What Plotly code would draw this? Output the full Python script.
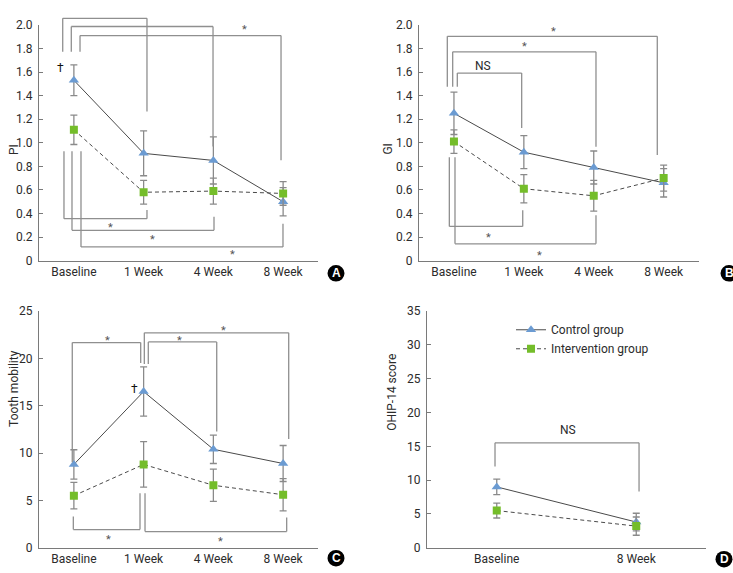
import plotly.graph_objects as go

FONT = "Roboto, Liberation Sans, Arial, sans-serif"

# ---------------- data ----------------
weeks4 = ["Baseline", "1 Week", "4 Week", "8 Week"]
weeks2 = ["Baseline", "8 Week"]

pi_control = [1.53, 0.91, 0.85, 0.50]
pi_control_sd = [0.13, 0.19, 0.20, 0.12]
pi_interv = [1.11, 0.58, 0.59, 0.57]
pi_interv_sd = [0.125, 0.10, 0.11, 0.10]

gi_control = [1.25, 0.92, 0.79, 0.66]
gi_control_sd = [0.18, 0.14, 0.14, 0.12]
gi_interv = [1.01, 0.61, 0.55, 0.70]
gi_interv_sd = [0.10, 0.12, 0.13, 0.11]

tm_control = [8.8, 16.5, 10.4, 8.9]
tm_control_sd = [1.55, 2.6, 1.5, 1.9]
tm_interv = [5.5, 8.8, 6.6, 5.6]
tm_interv_sd = [1.4, 2.4, 1.7, 1.7]

ohip_control = [9.0, 3.8]
ohip_control_sd = [1.15, 1.3]
ohip_interv = [5.5, 3.2]
ohip_interv_sd = [1.1, 1.35]

pi_ticks = [0, 0.2, 0.4, 0.6, 0.8, 1.0, 1.2, 1.4, 1.6, 1.8, 2.0]
pi_ticktext = ["0", "0.2", "0.4", "0.6", "0.8", "1.0", "1.2", "1.4", "1.6", "1.8", "2.0"]
tm_ticks = [0, 5, 10, 15, 20, 25]
ohip_ticks = [0, 5, 10, 15, 20, 25, 30, 35]

# ---------------- styles ----------------
C_BLUE = "#6b9bd2"
C_GREEN = "#74bd2a"
C_LINE = "#4a4a4a"
C_ERR = "#8a8a8a"
C_BRK = "#8f8f8f"
C_AX = "#7a7a7a"
C_TXT = "#2b2b2b"
FS = 12

panels = {
    # name: (xaxis id, yaxis id, xdomain, ydomain, xrange, yrange)
    "A": ("x", "y", [0.05321, 0.43383], [0.54625, 0.96806], [-0.5, 3.5], [0, 2.0]),
    "B": ("x2", "y2", [0.57162, 0.95307], [0.54625, 0.96806], [-0.5, 3.5], [0, 2.0]),
    "C": ("x3", "y3", [0.05321, 0.43383], [0.03264, 0.45602], [-0.5, 3.5], [0, 25]),
    "D": ("x4", "y4", [0.58254, 0.96317], [0.03264, 0.45602], [-0.5, 1.5], [0, 35]),
}

fig = go.Figure()


def add_series(panel, cats, ctrl, ctrl_sd, intv, intv_sd, legend=False):
    xa, ya = panels[panel][0], panels[panel][1]
    xs = list(range(len(cats)))
    fig.add_trace(go.Scatter(
        x=xs, y=ctrl, xaxis=xa, yaxis=ya, mode="lines+markers",
        name="Control group", showlegend=legend, legendrank=1,
        line=dict(color=C_LINE, width=1),
        marker=dict(symbol="triangle-up", size=9, color=C_BLUE),
        error_y=dict(type="data", array=ctrl_sd, color=C_ERR, thickness=1.3, width=3.5),
    ))
    fig.add_trace(go.Scatter(
        x=xs, y=intv, xaxis=xa, yaxis=ya, mode="lines+markers",
        name="Intervention group", showlegend=legend, legendrank=2,
        line=dict(color=C_LINE, width=1, dash="4px,3px"),
        marker=dict(symbol="square", size=8, color=C_GREEN),
        error_y=dict(type="data", array=intv_sd, color=C_ERR, thickness=1.3, width=3.5),
    ))


add_series("A", weeks4, pi_control, pi_control_sd, pi_interv, pi_interv_sd)
add_series("B", weeks4, gi_control, gi_control_sd, gi_interv, gi_interv_sd)
add_series("C", weeks4, tm_control, tm_control_sd, tm_interv, tm_interv_sd)
add_series("D", weeks2, ohip_control, ohip_control_sd, ohip_interv, ohip_interv_sd, legend=True)

# ---------------- axes ----------------
layout_axes = {}
yticks = {
    "A": (pi_ticks, pi_ticktext),
    "B": (pi_ticks, pi_ticktext),
    "C": (tm_ticks, [str(v) for v in tm_ticks]),
    "D": (ohip_ticks, [str(v) for v in ohip_ticks]),
}
xcats = {"A": weeks4, "B": weeks4, "C": weeks4, "D": weeks2}
for p, (xa, ya, xd, yd, xr, yr) in panels.items():
    xname = "xaxis" + xa[1:]
    yname = "yaxis" + ya[1:]
    layout_axes[xname] = dict(
        domain=xd, range=xr, anchor=ya, showgrid=False, zeroline=False,
        showline=True, linecolor=C_AX, linewidth=1, ticks="",
        tickmode="array", tickvals=list(range(len(xcats[p]))), ticktext=xcats[p],
        tickfont=dict(family=FONT, size=FS, color=C_TXT), fixedrange=True,
    )
    tv, tt = yticks[p]
    layout_axes[yname] = dict(
        domain=yd, range=yr, anchor=xa, showgrid=False, zeroline=False,
        showline=True, linecolor=C_AX, linewidth=1, ticks="inside", ticklen=4,
        tickcolor=C_AX, tickmode="array", tickvals=tv, ticktext=tt,
        tickfont=dict(family=FONT, size=FS, color=C_TXT), fixedrange=True,
        ticklabelstandoff=3,
    )

# ---------------- significance brackets ----------------
# (x_left, y_left_end, y_bar, x_right, y_right_end) in data units
brackets = {
    "A": [(-0.160, 1.771, 2.055, 1.048, 1.266),
          (-0.037, 1.771, 1.986, 1.995, 0.968),
          (0.088, 1.771, 1.909, 2.970, 0.852),
          (-0.142, 0.927, 0.356, 1.048, 0.430),
          (-0.027, 0.927, 0.257, 2.009, 0.372),
          (0.102, 0.927, 0.116, 2.998, 0.314)],
    "B": [(-0.095, 1.475, 1.903, 2.909, 0.896),
          (-0.018, 1.475, 1.771, 2.032, 0.966),
          (0.048, 1.475, 1.591, 0.969, 1.125),
          (-0.066, 0.877, 0.290, 0.984, 0.428),
          (0.015, 0.877, 0.143, 2.032, 0.386)],
    "C": [(-0.023, 9.03, 21.67, 0.958, 19.51),
          (1.010, 19.40, 22.70, 3.080, 11.50),
          (1.067, 19.40, 21.74, 2.048, 12.29),
          (-0.008, 3.30, 1.92, 0.948, 5.77),
          (1.020, 5.77, 1.71, 3.051, 3.19)],
    "D": [(-0.0125, 12.02, 15.52, 1.020, 8.31)],
}

labels = {
    "A": [("*", 0.432, 2.135), ("*", 1.364, 2.05), ("*", 2.44, 1.986),
          ("*", 0.532, 0.306), ("*", 1.134, 0.207), ("*", 2.281, 0.074),
          ("†", -0.185, 1.638)],
    "B": [("*", 1.421, 1.972), ("*", 1.016, 1.843), ("NS", 0.420, 1.655),
          ("*", 0.491, 0.221), ("*", 1.217, 0.069)],
    "C": [("*", 0.485, 22.16), ("*", 1.521, 22.16), ("*", 2.152, 23.22),
          ("*", 0.494, 1.24), ("*", 2.109, 0.96), ("†", 0.876, 16.76)],
    "D": [("NS", 0.509, 17.36)],
}

shapes = []
annotations = []
for p, blist in brackets.items():
    xa, ya, xd, yd, xr, yr = panels[p]

    def dx(v):
        return (v - xr[0]) / (xr[1] - xr[0])

    def dy(v):
        return (v - yr[0]) / (yr[1] - yr[0])

    xref = xa + " domain"
    yref = ya + " domain"
    for (x1, yl, yb, x2, yr2) in blist:
        pts = [(x1, yl), (x1, yb), (x2, yb), (x2, yr2)]
        for (a, b), (c, d) in zip(pts[:-1], pts[1:]):
            shapes.append(dict(type="line", xref=xref, yref=yref,
                               x0=dx(a), y0=dy(b), x1=dx(c), y1=dy(d),
                               line=dict(color=C_BRK, width=1.3)))

for p, llist in labels.items():
    xa, ya = panels[p][0], panels[p][1]
    for txt, x, y in llist:
        if txt == "*":
            annotations.append(dict(text="*", x=x, y=y, xref=xa, yref=ya, showarrow=False,
                                    font=dict(family=FONT, size=11, color="#555"),
                                    yshift=-3))
        elif txt == "†":
            annotations.append(dict(text="†", x=x, y=y, xref=xa, yref=ya, showarrow=False,
                                    font=dict(family=FONT, size=12, color="#111")))
        else:
            annotations.append(dict(text=txt, x=x, y=y, xref=xa, yref=ya, showarrow=False,
                                    font=dict(family=FONT, size=FS, color=C_TXT)))

# axis titles
W, H = 733, 573
titles = [("PI", 4.5, 138.5), ("GI", 388, 138.5),
          ("Tooth mobility", 5, 433), ("OHIP-14 score", 392, 437)]
for t, px, py in titles:
    annotations.append(dict(text=t, x=px / W, y=1 - py / H, xref="paper", yref="paper",
                            showarrow=False, textangle=-90,
                            font=dict(family=FONT, size=FS, color=C_TXT)))

# panel letters
letters = [("A", 336, 273), ("B", 729, 273), ("C", 336, 565), ("D", 724, 566)]
r = 8.5
for t, cx, cy in letters:
    shapes.append(dict(type="circle", xref="paper", yref="paper",
                       x0=(cx - r) / W, x1=(cx + r) / W,
                       y0=1 - (cy + r) / H, y1=1 - (cy - r) / H,
                       fillcolor="black", line=dict(width=0)))
    annotations.append(dict(text="<b>" + t + "</b>", x=cx / W, y=1 - cy / H,
                            xref="paper", yref="paper", showarrow=False,
                            xanchor="center", yanchor="middle",
                            font=dict(family="Liberation Sans, Arial, sans-serif", size=12,
                                      color="white")))

fig.update_layout(
    width=W, height=H,
    margin=dict(l=0, r=0, t=0, b=0),
    paper_bgcolor="white", plot_bgcolor="white",
    showlegend=True,
    legend=dict(x=511 / W, y=1 - 316 / H, xanchor="left", yanchor="top",
                bgcolor="rgba(0,0,0,0)", font=dict(family=FONT, size=FS, color=C_TXT),
                itemwidth=30, tracegroupgap=0),
    shapes=shapes, annotations=annotations,
    **layout_axes,
)

post = (
    "document.documentElement.style.margin='0';"
    "document.documentElement.style.overflow='hidden';"
    "document.body.style.margin='0';"
    "document.body.style.padding='0';"
    "document.body.style.overflow='hidden';"
    "document.body.style.height='573px';"
    "document.querySelectorAll('.svg-container').forEach(function(e){e.style.display='block';});"
)

fig.write_html("out.html", config={"displayModeBar": False}, post_script=post)
